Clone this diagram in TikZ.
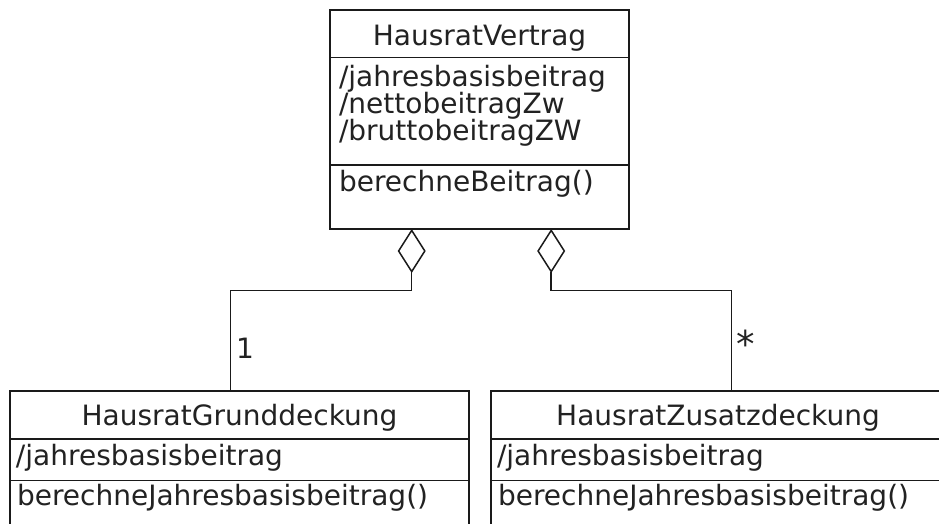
\documentclass[tikz,border=0pt]{standalone}
\usepackage{fontspec}
\setmainfont{DejaVu Sans}
\usetikzlibrary{arrows.meta}
\definecolor{ink}{HTML}{1A1A1A}
\definecolor{txtc}{HTML}{222222}
\tikzset{
  umlbox/.style={draw=ink, line width=1.5pt, rectangle, inner sep=0pt, outer sep=0pt},
  sep/.style={draw=ink, line width=1.5pt},
  txt/.style={inner sep=0pt, outer sep=0pt, text=txtc, font=\fontsize{28}{28}\selectfont},
  aggr/.style={draw=ink, line width=1.5pt, -{Diamond[open, length=44pt, width=28pt, line width=1.5pt]}},
}
\begin{document}
\begin{tikzpicture}[x=1pt,y=-1pt]
\useasboundingbox (0,0) rectangle (939,524);
\clip (0,0) rectangle (939,524);
\fill[white] (0,0) rectangle (939,524);
% top class
\node[umlbox, minimum width=299pt, minimum height=219pt] (hv) at (479.5,119.5) {};
\draw[sep] (hv.west |- 0,57.3) -- (hv.east |- 0,57.3);
\draw[sep] (hv.west |- 0,165) -- (hv.east |- 0,165);
\node[txt, anchor=base] (hvt) at (479.5,45.5) {HausratVertrag};
\node[txt, anchor=base west] (hva1) at (339,86.7) {/jahresbasisbeitrag};
\node[txt, anchor=base west] (hva2) at (339,113.3) {/nettobeitragZw};
\node[txt, anchor=base west] (hva3) at (339,140) {/bruttobeitragZW};
\node[txt, anchor=base west] (hvm1) at (339,191.7) {berechneBeitrag()};
% bottom left
\node[umlbox, minimum width=459pt, minimum height=160pt] (gd) at (239.5,471) {};
\draw[sep] (gd.west |- 0,439) -- (gd.east |- 0,439);
\draw[sep] (gd.west |- 0,480.5) -- (gd.east |- 0,480.5);
\node[txt, anchor=base] (gdt) at (239.5,425) {HausratGrunddeckung};
\node[txt, anchor=base west] (gda1) at (16,465) {/jahresbasisbeitrag};
\node[txt, anchor=base west] (gdm1) at (17,505) {berechneJahresbasisbeitrag()};
% bottom right
\node[umlbox, minimum width=459pt, minimum height=160pt] (zd) at (720.5,471) {};
\draw[sep] (zd.west |- 0,439) -- (zd.east |- 0,439);
\draw[sep] (zd.west |- 0,480.5) -- (zd.east |- 0,480.5);
\node[txt, anchor=base] (zdt) at (718,425) {HausratZusatzdeckung};
\node[txt, anchor=base west] (zda1) at (497,465) {/jahresbasisbeitrag};
\node[txt, anchor=base west] (zdm1) at (498,505) {berechneJahresbasisbeitrag()};
% connectors
\coordinate (xl) at (230.3,0);
\coordinate (xr) at (731.5,0);
\coordinate (dl) at (411.7,0);
\coordinate (dr) at (551.2,0);
\coordinate (yh) at (0,290.7);
\draw[aggr] (gd.north -| xl) -- (xl |- yh) -- (dl |- yh) -- (hv.south -| dl);
\draw[aggr] (zd.north -| xr) -- (xr |- yh) -- (dr |- yh) -- (hv.south -| dr);
% multiplicities
\node[txt, anchor=base west] (m1) at (236,358) {1};
\node[txt, anchor=center, font=\fontsize{37}{37}\selectfont] (m2) at (745.5,343.3) {*};
\end{tikzpicture}
\end{document}
